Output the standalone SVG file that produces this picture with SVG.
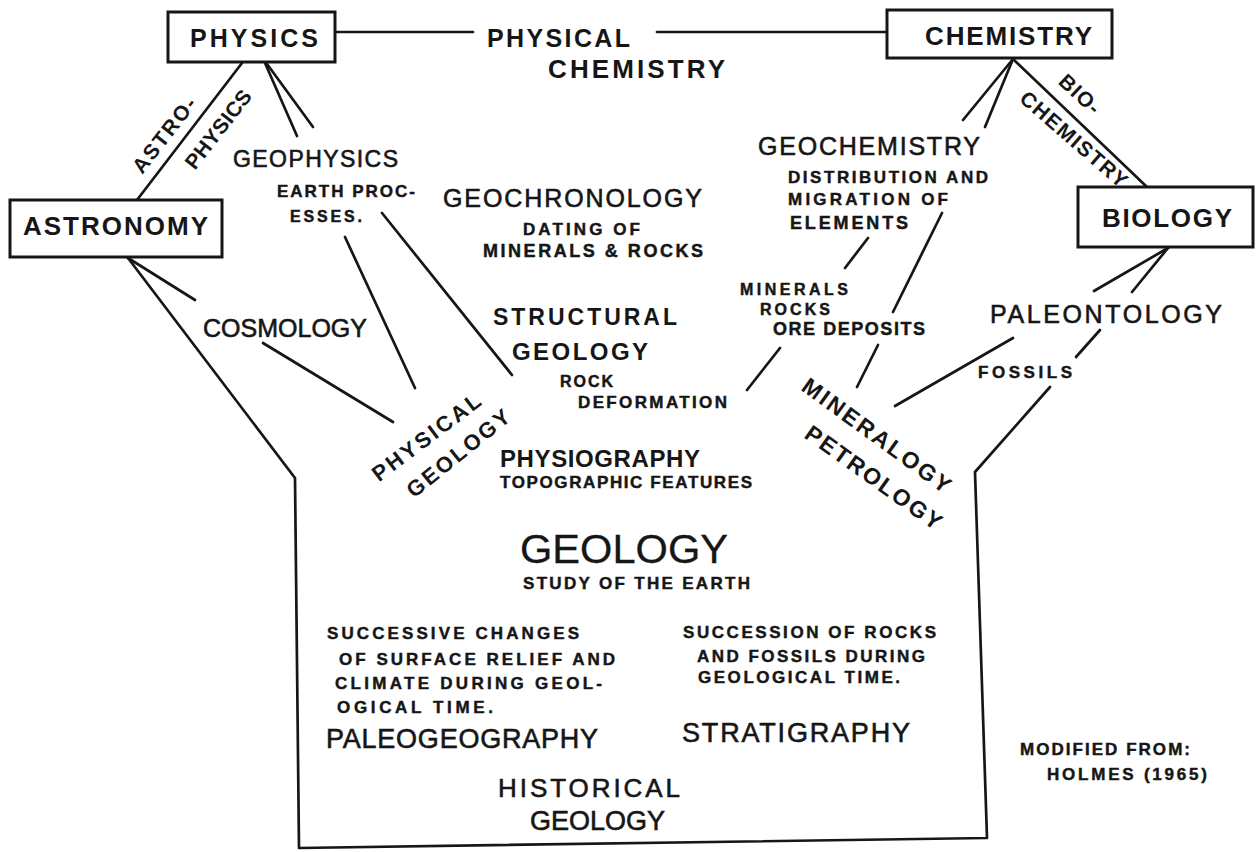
<svg xmlns="http://www.w3.org/2000/svg" width="1256" height="852" viewBox="0 0 1256 852">
<style>
.bg{fill:#fff}
.box{fill:#fff;stroke:#161616;stroke-width:3}
.ln{fill:none;stroke:#161616;stroke-width:2.7;stroke-linecap:round;stroke-linejoin:round}
text{font-family:"Liberation Sans",Arial,Helvetica,sans-serif;fill:#161616}
.b{font-weight:bold}
.s{font-weight:bold;stroke:#161616;stroke-width:0.45}
.m{font-weight:normal;stroke:#161616;stroke-width:0.6}
.t{font-weight:normal;stroke:#161616;stroke-width:0.3}
</style>
<rect class="bg" x="0" y="0" width="1256" height="852"/>

<g id="connectors">
  <line class="ln" x1="335" y1="32" x2="473" y2="32"/>
  <line class="ln" x1="657" y1="32" x2="887" y2="32"/>
  <line class="ln" x1="242" y1="63" x2="137" y2="200"/>
  <line class="ln" x1="265" y1="63" x2="297" y2="136"/>
  <line class="ln" x1="267" y1="64" x2="313" y2="127"/>
  <line class="ln" x1="345" y1="237" x2="415" y2="388"/>
  <line class="ln" x1="382" y1="213" x2="512" y2="375"/>
  <line class="ln" x1="128" y1="258" x2="195" y2="300"/>
  <line class="ln" x1="263" y1="343" x2="393" y2="422"/>
  <polyline class="ln" points="128,258 295,478 299,848 987,838 975,472 1050,387"/>
  <line class="ln" x1="1076" y1="357" x2="1100" y2="330"/>
  <line class="ln" x1="1094" y1="291" x2="1168" y2="248"/>
  <line class="ln" x1="1132" y1="292" x2="1168" y2="248"/>
  <line class="ln" x1="1013" y1="338" x2="895" y2="406"/>
  <line class="ln" x1="1013" y1="59" x2="963" y2="120"/>
  <line class="ln" x1="1013" y1="59" x2="985" y2="127"/>
  <line class="ln" x1="1013" y1="59" x2="1147" y2="187"/>
  <line class="ln" x1="942" y1="213" x2="893" y2="312"/>
  <line class="ln" x1="868" y1="238" x2="845" y2="268"/>
  <line class="ln" x1="878" y1="345" x2="857" y2="387"/>
  <line class="ln" x1="747" y1="390" x2="780" y2="348"/>
</g>

<g id="physics">
  <rect class="box" x="168" y="12" width="167" height="50"/>
  <text class="b" x="190" y="47" font-size="25" textLength="128" lengthAdjust="spacing">PHYSICS</text>
</g>
<g id="chemistry">
  <rect class="box" x="887" y="10" width="225" height="48"/>
  <text class="b" x="925" y="45" font-size="26" textLength="167" lengthAdjust="spacing">CHEMISTRY</text>
</g>
<g id="astronomy">
  <rect class="box" x="10" y="200" width="212" height="57"/>
  <text class="b" x="23" y="235" font-size="26" textLength="185" lengthAdjust="spacing">ASTRONOMY</text>
</g>
<g id="biology">
  <rect class="box" x="1078" y="187" width="175" height="60"/>
  <text class="b" x="1102" y="227" font-size="26" textLength="130" lengthAdjust="spacing">BIOLOGY</text>
</g>

<g id="physical-chemistry">
  <text class="b" x="487" y="47" font-size="25" textLength="143" lengthAdjust="spacing">PHYSICAL</text>
  <text class="b" x="548" y="78" font-size="26" textLength="177" lengthAdjust="spacing">CHEMISTRY</text>
</g>

<g id="astrophysics">
  <g transform="translate(164,135) rotate(-52)">
    <text class="b" x="0" y="7.5" font-size="21" text-anchor="middle" textLength="90" lengthAdjust="spacing">ASTRO-</text>
  </g>
  <g transform="translate(218,129) rotate(-52)">
    <text class="b" x="0" y="7.5" font-size="21" text-anchor="middle" textLength="94" lengthAdjust="spacing">PHYSICS</text>
  </g>
</g>

<g id="biochemistry">
  <g transform="translate(1080,94) rotate(43)">
    <text class="b" x="0" y="7.5" font-size="21" text-anchor="middle" textLength="48" lengthAdjust="spacing">BIO-</text>
  </g>
  <g transform="translate(1074,139) rotate(41)">
    <text class="b" x="0" y="7.5" font-size="21" text-anchor="middle" textLength="135" lengthAdjust="spacing">CHEMISTRY</text>
  </g>
</g>

<g id="geophysics">
  <text class="m" x="233" y="167" font-size="23" textLength="165" lengthAdjust="spacing">GEOPHYSICS</text>
  <text class="s" x="277" y="197" font-size="17" textLength="138" lengthAdjust="spacing">EARTH PROC-</text>
  <text class="s" x="290" y="222" font-size="16" textLength="72" lengthAdjust="spacing">ESSES.</text>
</g>

<g id="geochronology">
  <text class="m" x="443" y="207" font-size="25" textLength="259" lengthAdjust="spacing">GEOCHRONOLOGY</text>
  <text class="s" x="523" y="235" font-size="17" textLength="117" lengthAdjust="spacing">DATING OF</text>
  <text class="s" x="483" y="257" font-size="18" textLength="220" lengthAdjust="spacing">MINERALS &amp; ROCKS</text>
</g>

<g id="geochemistry">
  <text class="m" x="758" y="155" font-size="25" textLength="222" lengthAdjust="spacing">GEOCHEMISTRY</text>
  <text class="s" x="788" y="183" font-size="17" textLength="200" lengthAdjust="spacing">DISTRIBUTION AND</text>
  <text class="s" x="788" y="205" font-size="17" textLength="160" lengthAdjust="spacing">MIGRATION OF</text>
  <text class="s" x="790" y="229" font-size="18" textLength="118" lengthAdjust="spacing">ELEMENTS</text>
</g>

<g id="cosmology">
  <text class="m" x="203" y="337" font-size="25" textLength="164" lengthAdjust="spacing">COSMOLOGY</text>
</g>

<g id="structural-geology">
  <text class="b" x="493" y="325" font-size="23" textLength="184" lengthAdjust="spacing">STRUCTURAL</text>
  <text class="b" x="512" y="360" font-size="24" textLength="136" lengthAdjust="spacing">GEOLOGY</text>
  <text class="s" x="560" y="387" font-size="16" textLength="53" lengthAdjust="spacing">ROCK</text>
  <text class="s" x="578" y="408" font-size="17" textLength="149" lengthAdjust="spacing">DEFORMATION</text>
</g>

<g id="minerals-rocks">
  <text class="s" x="740" y="295" font-size="16" textLength="108" lengthAdjust="spacing">MINERALS</text>
  <text class="s" x="760" y="315" font-size="16" textLength="70" lengthAdjust="spacing">ROCKS</text>
  <text class="s" x="773" y="335" font-size="18" textLength="152" lengthAdjust="spacing">ORE DEPOSITS</text>
</g>

<g id="paleontology">
  <text class="m" x="990" y="323" font-size="25" textLength="232" lengthAdjust="spacing">PALEONTOLOGY</text>
  <text class="s" x="978" y="378" font-size="17" textLength="94" lengthAdjust="spacing">FOSSILS</text>
</g>

<g id="physical-geology">
  <g transform="translate(426,437) rotate(-37)">
    <text class="b" x="0" y="8" font-size="22" text-anchor="middle" textLength="130" lengthAdjust="spacing">PHYSICAL</text>
  </g>
  <g transform="translate(458,453) rotate(-39)">
    <text class="b" x="0" y="8" font-size="22" text-anchor="middle" textLength="126" lengthAdjust="spacing">GEOLOGY</text>
  </g>
</g>

<g id="mineralogy-petrology">
  <g transform="translate(877,435) rotate(36)">
    <text class="b" x="0" y="8.5" font-size="23" text-anchor="middle" textLength="178" lengthAdjust="spacing">MINERALOGY</text>
  </g>
  <g transform="translate(874,477) rotate(35.5)">
    <text class="b" x="0" y="8.5" font-size="23" text-anchor="middle" textLength="162" lengthAdjust="spacing">PETROLOGY</text>
  </g>
</g>

<g id="physiography">
  <text class="b" x="500" y="467" font-size="24" textLength="200" lengthAdjust="spacing">PHYSIOGRAPHY</text>
  <text class="s" x="500" y="488" font-size="17" textLength="252" lengthAdjust="spacing">TOPOGRAPHIC FEATURES</text>
</g>

<g id="geology">
  <text class="t" x="520" y="563" font-size="41" textLength="208" lengthAdjust="spacingAndGlyphs">GEOLOGY</text>
  <text class="s" x="523" y="589" font-size="17" textLength="227" lengthAdjust="spacing">STUDY OF THE EARTH</text>
</g>

<g id="paleogeography">
  <text class="s" x="327" y="639" font-size="17" textLength="252" lengthAdjust="spacing">SUCCESSIVE CHANGES</text>
  <text class="s" x="339" y="665" font-size="17" textLength="276" lengthAdjust="spacing">OF SURFACE RELIEF AND</text>
  <text class="s" x="335" y="689" font-size="17" textLength="267" lengthAdjust="spacing">CLIMATE DURING GEOL-</text>
  <text class="s" x="337" y="713" font-size="17" textLength="156" lengthAdjust="spacing">OGICAL TIME.</text>
  <text class="m" x="326" y="748" font-size="27" textLength="272" lengthAdjust="spacing">PALEOGEOGRAPHY</text>
</g>

<g id="stratigraphy">
  <text class="s" x="683" y="638" font-size="17" textLength="253" lengthAdjust="spacing">SUCCESSION OF ROCKS</text>
  <text class="s" x="697" y="662" font-size="17" textLength="228" lengthAdjust="spacing">AND FOSSILS DURING</text>
  <text class="s" x="698" y="683" font-size="17" textLength="202" lengthAdjust="spacing">GEOLOGICAL TIME.</text>
  <text class="m" x="682" y="742" font-size="27" textLength="228" lengthAdjust="spacing">STRATIGRAPHY</text>
</g>

<g id="historical-geology">
  <text class="m" x="498" y="797" font-size="26" textLength="182" lengthAdjust="spacing">HISTORICAL</text>
  <text class="m" x="530" y="830" font-size="27" textLength="135" lengthAdjust="spacing">GEOLOGY</text>
</g>

<g id="credit">
  <text class="s" x="1020" y="755" font-size="17" textLength="170" lengthAdjust="spacing">MODIFIED FROM:</text>
  <text class="s" x="1047" y="780" font-size="17" textLength="160" lengthAdjust="spacing">HOLMES (1965)</text>
</g>
</svg>
